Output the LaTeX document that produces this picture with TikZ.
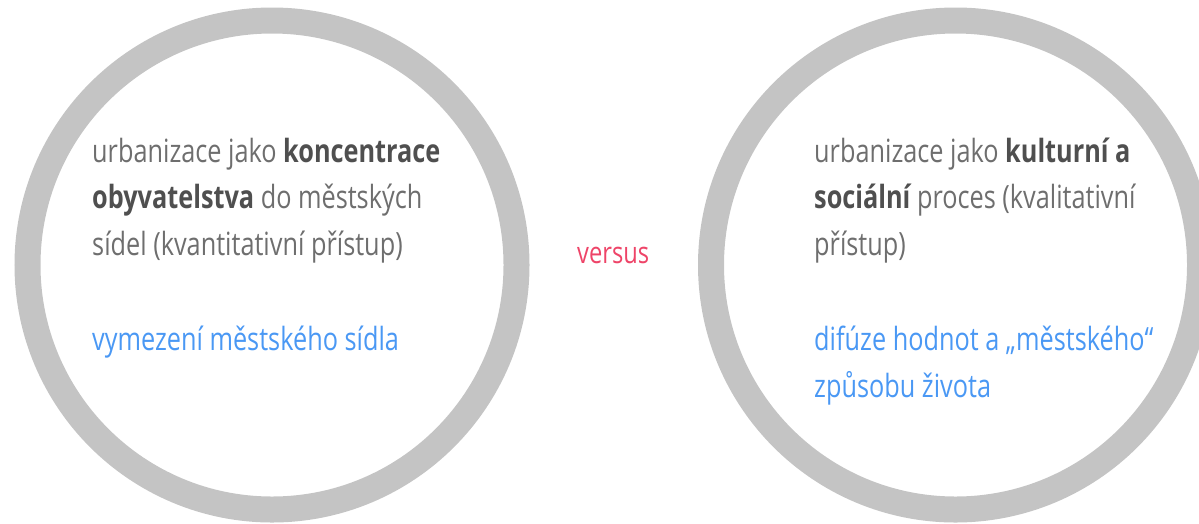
\documentclass[tikz,border=0pt]{standalone}
\usepackage{fontspec}
\setmainfont{Open Sans}[FakeStretch=0.79]
\usepackage{tikz}
\usetikzlibrary{positioning}

\definecolor{ringgrey}{HTML}{C4C4C4}
\definecolor{textgrey}{HTML}{6E6E6E}
\definecolor{boldgrey}{HTML}{4F4F4F}
\definecolor{linkblue}{HTML}{4A98F4}
\definecolor{versuspink}{HTML}{EE4468}

\tikzset{
  ring/.style={draw=ringgrey, line width=26},
  txtline/.style={anchor=base west, inner sep=0pt, font=\fontsize{32}{38}\selectfont, text=textgrey},
  blueline/.style={txtline, text=linkblue},
}
\newcommand{\hl}[1]{\textcolor{boldgrey}{\bfseries #1}}

\begin{document}
\begin{tikzpicture}[x=1pt,y=-1pt]
      \useasboundingbox (0,0) rectangle (1199,523);
      % two rings
      \draw[ring] (272,265) circle (244.5);
      \draw[ring] (955.5,265) circle (244.5);
      % left circle text
      \node[txtline] (l1) at (92,162) {urbanizace jako \hl{koncentrace}};
      \node[txtline] (l2) at (92,208.5) {\hl{obyvatelstva} do městských};
      \node[txtline] (l3) at (92,255) {sídel (kvantitativní přístup)};
      \node[blueline] (lb) at (92,350) {vymezení městského sídla};
      % middle
      \node[txtline, text=versuspink, font=\fontsize{30}{36}\selectfont] (vs) at (577,263) {versus};
      % right circle text
      \node[txtline] (r1) at (814,162) {urbanizace jako \hl{kulturní a}};
      \node[txtline] (r2) at (814,208.5) {\hl{sociální} proces (kvalitativní};
      \node[txtline] (r3) at (814,255) {přístup)};
      \node[blueline] (rb1) at (814,350) {difúze hodnot a „městského“};
      \node[blueline] (rb2) at (814,397) {způsobu života};
\end{tikzpicture}
\end{document}
